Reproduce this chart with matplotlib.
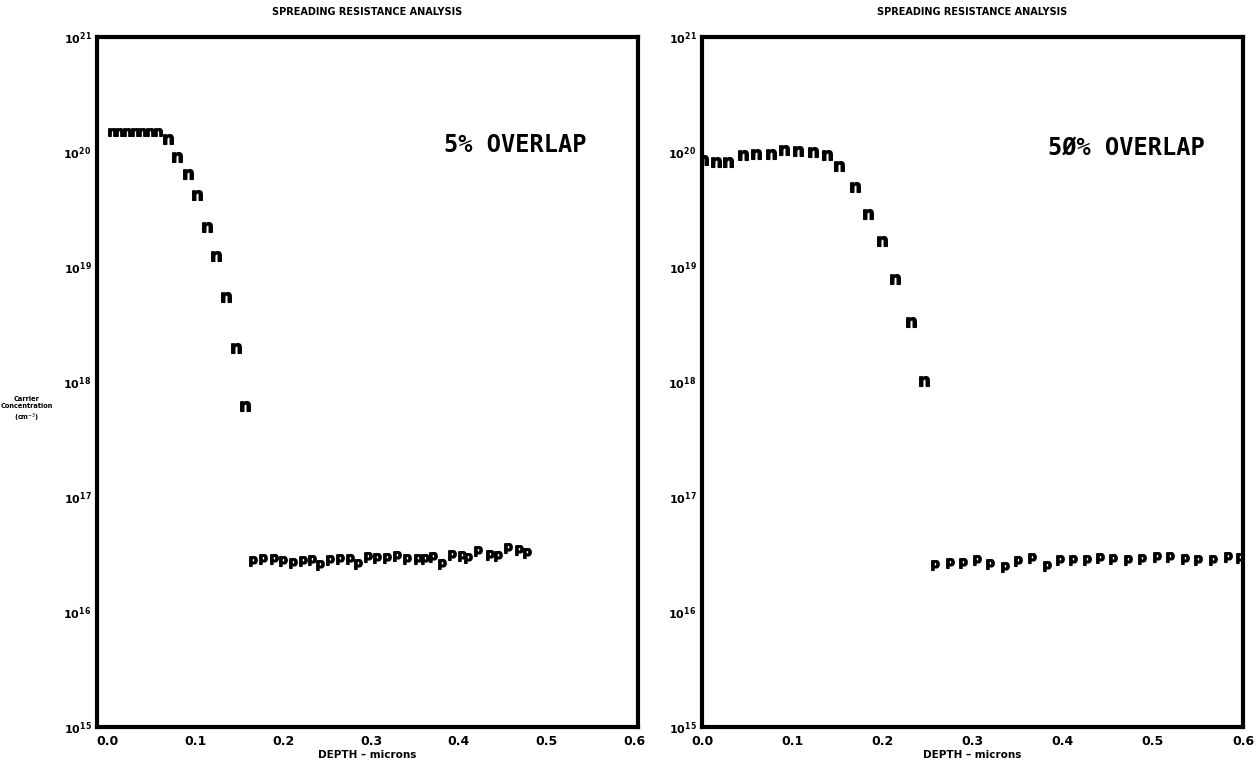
import matplotlib
matplotlib.use("Agg")
import matplotlib.pyplot as plt
import numpy as np

# ---- data ----
# Left panel: 5% overlap
left_n_depth = [0.005, 0.013, 0.022, 0.031, 0.039, 0.048, 0.058, 0.069, 0.079,
                0.092, 0.102, 0.113, 0.124, 0.135, 0.146, 0.157]
left_n_log = [20.17, 20.17, 20.17, 20.17, 20.17, 20.17, 20.17, 20.11, 19.96,
              19.81, 19.63, 19.35, 19.10, 18.74, 18.30, 17.79]
left_p_depth = [0.166, 0.177, 0.189, 0.200, 0.211, 0.222, 0.233, 0.242, 0.253,
                0.265, 0.276, 0.285, 0.297, 0.307, 0.318, 0.330, 0.341, 0.353,
                0.362, 0.371, 0.381, 0.392, 0.404, 0.411, 0.422, 0.436, 0.445,
                0.456, 0.468, 0.478]
left_p_log = [16.44, 16.46, 16.46, 16.44, 16.43, 16.44, 16.45, 16.41, 16.45,
              16.46, 16.46, 16.42, 16.48, 16.47, 16.47, 16.49, 16.46, 16.46,
              16.46, 16.48, 16.42, 16.50, 16.49, 16.47, 16.53, 16.50, 16.49,
              16.56, 16.54, 16.51]

# Right panel: 50% overlap
right_n_depth = [0.001, 0.016, 0.029, 0.046, 0.060, 0.077, 0.091, 0.107, 0.123,
                 0.139, 0.152, 0.170, 0.184, 0.200, 0.214, 0.232, 0.246]
right_n_log = [19.93, 19.91, 19.91, 19.97, 19.98, 19.98, 20.02, 20.01, 20.00,
               19.97, 19.88, 19.70, 19.46, 19.23, 18.90, 18.52, 18.01]
right_p_depth = [0.258, 0.275, 0.290, 0.305, 0.319, 0.336, 0.350, 0.366, 0.383,
                 0.397, 0.411, 0.427, 0.441, 0.456, 0.473, 0.488, 0.505, 0.519,
                 0.536, 0.550, 0.567, 0.583, 0.597]
right_p_log = [16.41, 16.43, 16.43, 16.45, 16.42, 16.39, 16.44, 16.47, 16.40,
               16.45, 16.45, 16.45, 16.47, 16.46, 16.45, 16.46, 16.48, 16.48,
               16.46, 16.45, 16.45, 16.48, 16.47]

x_ticks = [0.0, 0.1, 0.2, 0.3, 0.4, 0.5, 0.6]
x_tick_labels = ["0.0", "0.1", "0.2", "0.3", "0.4", "0.5", "0.6"]
y_ticks = [1e15, 1e16, 1e17, 1e18, 1e19, 1e20, 1e21]
y_tick_labels = [r"$\mathbf{10^{15}}$", r"$\mathbf{10^{16}}$", r"$\mathbf{10^{17}}$",
                 r"$\mathbf{10^{18}}$", r"$\mathbf{10^{19}}$", r"$\mathbf{10^{20}}$",
                 r"$\mathbf{10^{21}}$"]

title = "SPREADING RESISTANCE ANALYSIS"
xlabel = "DEPTH \u2013 microns"
panel_labels = ["5% OVERLAP", "5\u00d8% OVERLAP"]

# ---- figure ----
fig = plt.figure(figsize=(12.6, 7.71), dpi=100)
ax1 = fig.add_axes([97 / 1260, 1 - 727 / 771, 541 / 1260, 690 / 771])
ax2 = fig.add_axes([702 / 1260, 1 - 727 / 771, 541 / 1260, 690 / 771])

panels = [
    (ax1, left_n_depth, left_n_log, left_p_depth, left_p_log, (-0.012, 0.604), (515, 145)),
    (ax2, right_n_depth, right_n_log, right_p_depth, right_p_log, (0.0, 0.6), (1126, 148)),
]

for i, (ax, nd, nl, pd, pl, xl, txy) in enumerate(panels):
    ax.set_yscale("log")
    ax.set_xlim(*xl)
    ax.set_ylim(1e15, 1e21)
    nd = np.array(nd)
    nv = 10 ** np.array(nl)
    if i == 0:
        # the first shallow points are printed smaller in the original
        ax.plot(nd[:7], nv[:7], linestyle="none", marker=r"$\mathbf{n}$",
                markersize=5.5, color="black")
        ax.plot(nd[7:], nv[7:], linestyle="none", marker=r"$\mathbf{n}$",
                markersize=7, color="black")
    else:
        ax.plot(nd, nv, linestyle="none", marker=r"$\mathbf{n}$",
                markersize=7, color="black")
    ax.plot(pd, 10 ** np.array(pl), linestyle="none", marker=r"$\mathbf{p}$",
            markersize=7, color="black")
    for s in ax.spines.values():
        s.set_linewidth(3)
        s.set_color("black")
    ax.set_xticks(x_ticks)
    ax.set_xticklabels(x_tick_labels, fontsize=9, fontweight="bold")
    ax.set_yticks(y_ticks)
    ax.set_yticklabels(y_tick_labels, fontsize=8)
    ax.minorticks_off()
    ax.tick_params(axis="both", length=0, pad=6)
    ax.tick_params(axis="y", pad=4)
    ax.set_xlabel(xlabel, fontsize=7.5, fontweight="bold", labelpad=1)
    ax.set_title(title, fontsize=7, fontweight="bold", pad=16)
    fig.text(txy[0] / 1260, 1 - txy[1] / 771, panel_labels[i], fontsize=17,
             fontweight="bold", fontfamily="DejaVu Sans Mono",
             ha="center", va="center")

fig.text(27 / 1260, 1 - 410 / 771, "Carrier\nConcentration\n(cm$^{-3}$)",
         fontsize=4.8, fontweight="bold", ha="center", va="center",
         linespacing=1.3)

fig.savefig("out.png", dpi=100)
